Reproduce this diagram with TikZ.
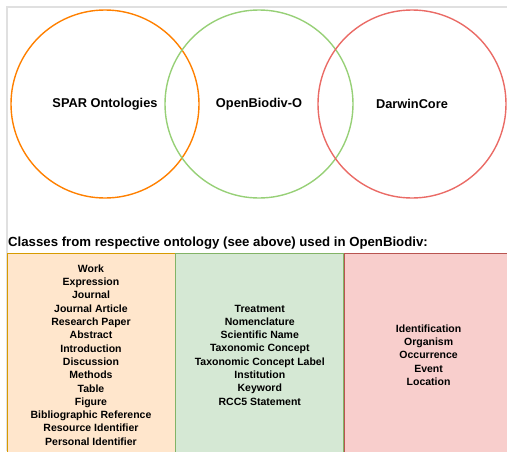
\documentclass[tikz,border=0pt]{standalone}
\usepackage{fontspec}
\setmainfont{Liberation Sans}
\usepackage{xcolor}
\usetikzlibrary{positioning}

\definecolor{sparline}{HTML}{FF8000}
\definecolor{biodivline}{HTML}{97D077}
\definecolor{dwcline}{HTML}{EA6B66}
\definecolor{sparfill}{HTML}{FFE6CC}
\definecolor{sparedge}{HTML}{D79B00}
\definecolor{biodivfill}{HTML}{D5E8D4}
\definecolor{biodivedge}{HTML}{82B366}
\definecolor{dwcfill}{HTML}{F8CECC}
\definecolor{dwcedge}{HTML}{B85450}
\definecolor{framegray}{HTML}{E0E0E0}

\begin{document}
\begin{tikzpicture}[x=1pt,y=-1pt]
\tikzstyle{venn}=[circle,draw,line width=1.4pt,minimum size=188pt,inner sep=0pt,font=\bfseries\fontsize{12.8}{14}\selectfont]
\tikzstyle{col}=[draw,line width=0.8pt,minimum width=168pt,minimum height=204pt,inner sep=0pt,align=center,font=\bfseries\fontsize{10.5}{13.3}\selectfont]
\useasboundingbox (0,0) rectangle (507,451);
% frame
\coordinate (ftr) at (507,7);
\coordinate (ftl) at (7,7);
\coordinate (fbl) at (7,451);
\draw[framegray,line width=1.5pt] (ftr) -- (ftl) -- (fbl);
% the three ontologies
\node[venn,draw=sparline] (spar) at (105,104) {SPAR Ontologies};
\node[venn,draw=biodivline] (biodiv) at (259,104) {OpenBiodiv-O};
\node[venn,draw=dwcline] (dwc) at (412,104) {DarwinCore};
% classes
\node[anchor=west,inner sep=0pt,font=\bfseries\fontsize{13.2}{15}\selectfont] (title) at (8,243) {Classes from respective ontology (see above) used in OpenBiodiv:};
\node[col,fill=sparfill,draw=sparedge] (sparbox) at (91,355) {Work\\Expression\\Journal\\Journal Article\\Research Paper\\Abstract\\Introduction\\Discussion\\Methods\\Table\\Figure\\Bibliographic Reference\\Resource Identifier\\Personal Identifier};
\node[col,fill=biodivfill,draw=biodivedge,right=0pt of sparbox] (biodivbox) {Treatment\\Nomenclature\\Scientific Name\\Taxonomic Concept\\Taxonomic Concept Label\\Institution\\Keyword\\RCC5 Statement};
\node[col,fill=dwcfill,draw=dwcedge,right=0pt of biodivbox] (dwcbox) {Identification\\Organism\\Occurrence\\Event\\Location};
\end{tikzpicture}
\end{document}
